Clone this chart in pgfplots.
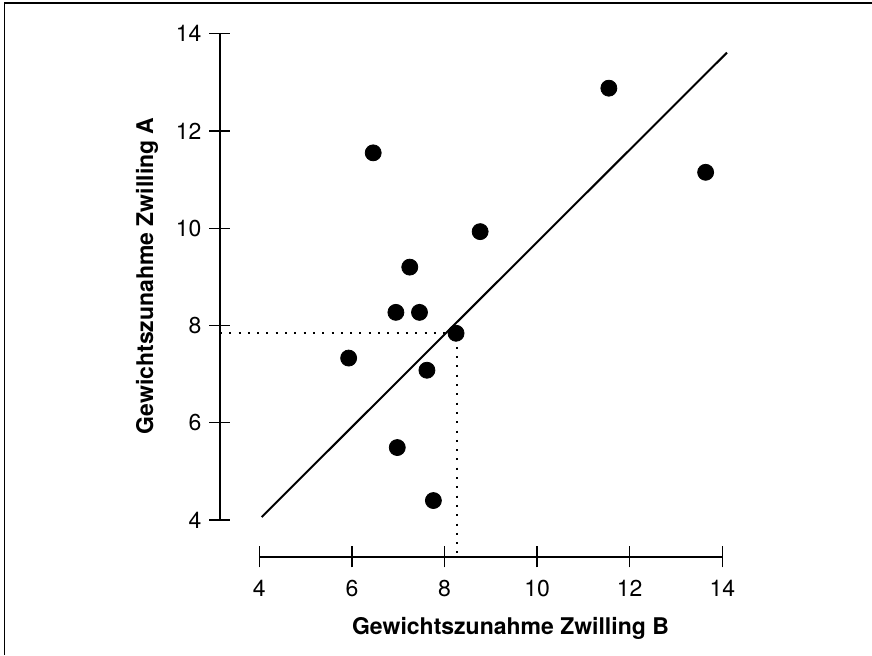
\documentclass[border=0pt]{standalone}
\usepackage{fontspec}
\setmainfont{TeX Gyre Heros}
\usepackage{pgfplots}
\pgfplotsset{compat=1.18}
\usetikzlibrary{calc}
\begin{document}
\begin{tikzpicture}
\begin{axis}[
    x=23.15pt, y=24.315pt,
    xmin=3.15, xmax=14.2, ymin=3.24, ymax=14,
    axis lines*=left,
    axis line style={draw=none},
    xtick={4,6,...,14},
    ytick={4,6,...,14},
    tick align=center,
    major tick length=10.5pt,
    tick style={black, line width=0.65pt},
    /pgf/number format/assume math mode=true,
    ticklabel style={font=\fontsize{11.5}{13}\selectfont},
    xticklabel style={yshift=-3pt},
    yticklabel style={xshift=-0.5pt},
    clip=false]

% twin pairs: x = twin B, y = twin A
\addplot[only marks, mark=*, mark size=4pt, black] coordinates {
    (6.46, 11.55)
    (11.55, 12.88)
    (13.64, 11.15)
    (8.77, 9.93)
    (7.25, 9.20)
    (6.95, 8.27)
    (7.46, 8.27)
    (8.25, 7.84)
    (5.93, 7.33)
    (7.62, 7.08)
    (6.98, 5.49)
    (7.76, 4.40)
};
\addplot[black, line width=1pt] coordinates {(4.05, 4.06) (14.10, 13.61)};
\addplot[black, line width=1pt, line cap=butt, dash pattern=on 1pt off 3.65pt]
    coordinates {(3.15, 7.85) (8.27, 7.85) (8.27, 3.24)};

% detached axis lines
\draw[black, line width=0.65pt] (axis cs:3.15,4) -- (axis cs:3.15,14);
\draw[black, line width=0.65pt] (axis cs:4,3.24) -- (axis cs:14,3.24);

\node[font=\fontsize{11.5}{13}\selectfont\bfseries] at (axis cs:9.425,1.78)
    {Gewichtszunahme Zwilling B};
\node[font=\fontsize{11.5}{13}\selectfont\bfseries, rotate=90] at (axis cs:1.575,9.02)
    {Gewichtszunahme Zwilling A};
\coordinate (p44) at (axis cs:4,4);
\end{axis}
\pgfresetboundingbox
\path[use as bounding box] ($(p44)+(-129.65pt,260pt)$) rectangle ($(p44)+(306.35pt,-67.5pt)$);
\draw[black, line width=0.8pt] ($(p44)+(-127.4pt,-67.5pt)$) -- ($(p44)+(-127.4pt,258.5pt)$) -- ($(p44)+(306.35pt,258.5pt)$);
\end{tikzpicture}
\end{document}
